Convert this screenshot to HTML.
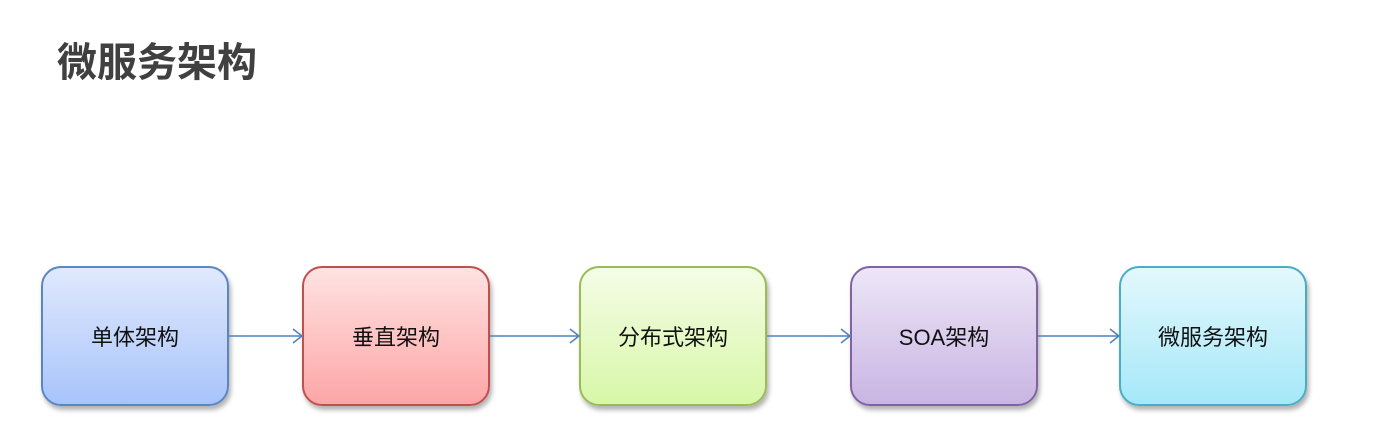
<!DOCTYPE html>
<html><head><meta charset="utf-8"><style>
body{margin:0;width:1397px;height:433px;background:#fff;position:relative;overflow:hidden;font-family:"Liberation Sans","Noto Sans CJK SC",sans-serif}
.t{position:absolute;left:57px;top:30px;font-size:40px;font-weight:bold;color:#404040;letter-spacing:0px}
.b{position:absolute;top:266px;width:184px;height:136px;border-radius:20px;border:2px solid;box-shadow:2px 4px 5px rgba(0,0,0,.3);display:flex;align-items:center;justify-content:center;font-size:22px;color:#111}
</style></head><body>
<div class="t">微服务架构</div>
<div class="b" style="left:41px;border-color:#5a86c4;background:linear-gradient(#e0e9fd,#a8c4fb)">单体架构</div>
<div class="b" style="left:302px;border-color:#c0504d;background:linear-gradient(#ffe2e2,#fda6a6)">垂直架构</div>
<div class="b" style="left:579px;border-color:#9bbb59;background:linear-gradient(#f4fde6,#d8f7a8)">分布式架构</div>
<div class="b" style="left:850px;border-color:#8064a2;background:linear-gradient(#ede6f7,#c9b5e3)">SOA架构</div>
<div class="b" style="left:1119px;border-color:#4bacc6;background:linear-gradient(#e3f8fd,#a5e8f8)">微服务架构</div>
<svg width="1397" height="433" style="position:absolute;left:0;top:0" fill="none" stroke="#4f81bd" stroke-width="1.5">
<path d="M229 336H302M293 329l9 7-9 7"/>
<path d="M490 336H579M570 329l9 7-9 7"/>
<path d="M767 336H850M841 329l9 7-9 7"/>
<path d="M1038 336H1119M1110 329l9 7-9 7"/>
</svg>
</body></html>
